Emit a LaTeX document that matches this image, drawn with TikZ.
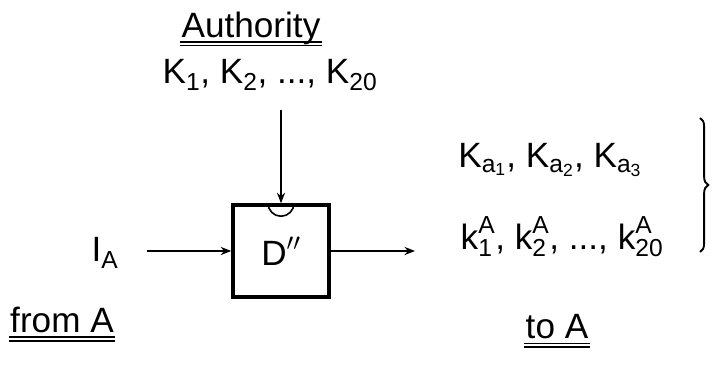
\documentclass[tikz,border=0pt]{standalone}
\usepackage{amsmath}
\usepackage{fontspec}
\setmainfont{Liberation Sans}
\usepackage{tikz}
\usetikzlibrary{arrows.meta}
\usetikzlibrary{positioning}
\usetikzlibrary{decorations.pathreplacing}
\newcommand{\tx}[1]{\text{#1}}
\newcommand{\sep}{\text{, }}
\newcommand{\dts}{\text{...}}
\tikzset{
blockbox/.style={
	rectangle,
	minimum width=2.88cm,
	minimum height=2.76cm,
	draw=black,
	line width=3pt,
	inner sep=0pt
},
lbl/.style={
	font=\fontsize{30}{34}\selectfont,
	inner sep=1pt
},
flow/.style={
	-{Stealth[length=9pt,width=7pt]},
	draw=black,
	line width=1.4pt
},
uline/.style={
	line width=1.3pt
}
}

\begin{document}
\begin{tikzpicture}[x=0.03cm, y=0.03cm]
\useasboundingbox (0,0) rectangle (719,369);

\node (dev) [blockbox] at (281,118) {};
\node (dname) [lbl] at (dev.center) {$\tx{D}''$};

\node (auth) [lbl] at (251,341) {Authority};
\node (keys) [lbl] at (270,294) {$\tx{K}_{\tx{1}}\sep\tx{K}_{\tx{2}}\sep\dts\sep\tx{K}_{\tx{20}}$};
\coordinate (ktop) at (281,259);

\node (ia)   [lbl] at (105,116) {$\tx{I}_{\tx{A}}$};
\coordinate (instart) at (147,118);
\coordinate (outend) at (415,118);

\node (ka)   [lbl] at (550,209) {$\tx{K}_{\tx{a}_{\tx{1}}}\sep\tx{K}_{\tx{a}_{\tx{2}}}\sep\tx{K}_{\tx{a}_{\tx{3}}}$};
\node (kk)   [lbl] at (562,132) {$\tx{k}^{\tx{A}}_{\tx{1}}\sep\tx{k}^{\tx{A}}_{\tx{2}}\sep\dts\sep\tx{k}^{\tx{A}}_{\tx{20}}$};
\coordinate (btop) at (700,251);
\coordinate (bbot) at (700,117);

\node (from) [lbl] at (62,49) {from A};
\node (to)   [lbl] at (557,42) {to A};

% arrows
\draw [flow] (ktop) -- (dev.north);
\draw [flow] (instart) -- (dev.west);
\draw [flow] (dev.east) -- (outend);

% little cup under the key input
\draw [line width=1.4pt] ([xshift=-13*0.03cm]dev.north) arc[start angle=180, end angle=360, radius=13*0.03cm];

% brace
\draw [line width=1.6pt, decorate, decoration={brace, amplitude=7pt}] (btop) -- (bbot);

% double underlines
\foreach \n in {auth,from,to} {
	\draw [uline] ([yshift=-4pt]\n.base west) -- ([yshift=-4pt]\n.base east);
	\draw [uline] ([yshift=-7pt]\n.base west) -- ([yshift=-7pt]\n.base east);
}

\end{tikzpicture}
\end{document}
